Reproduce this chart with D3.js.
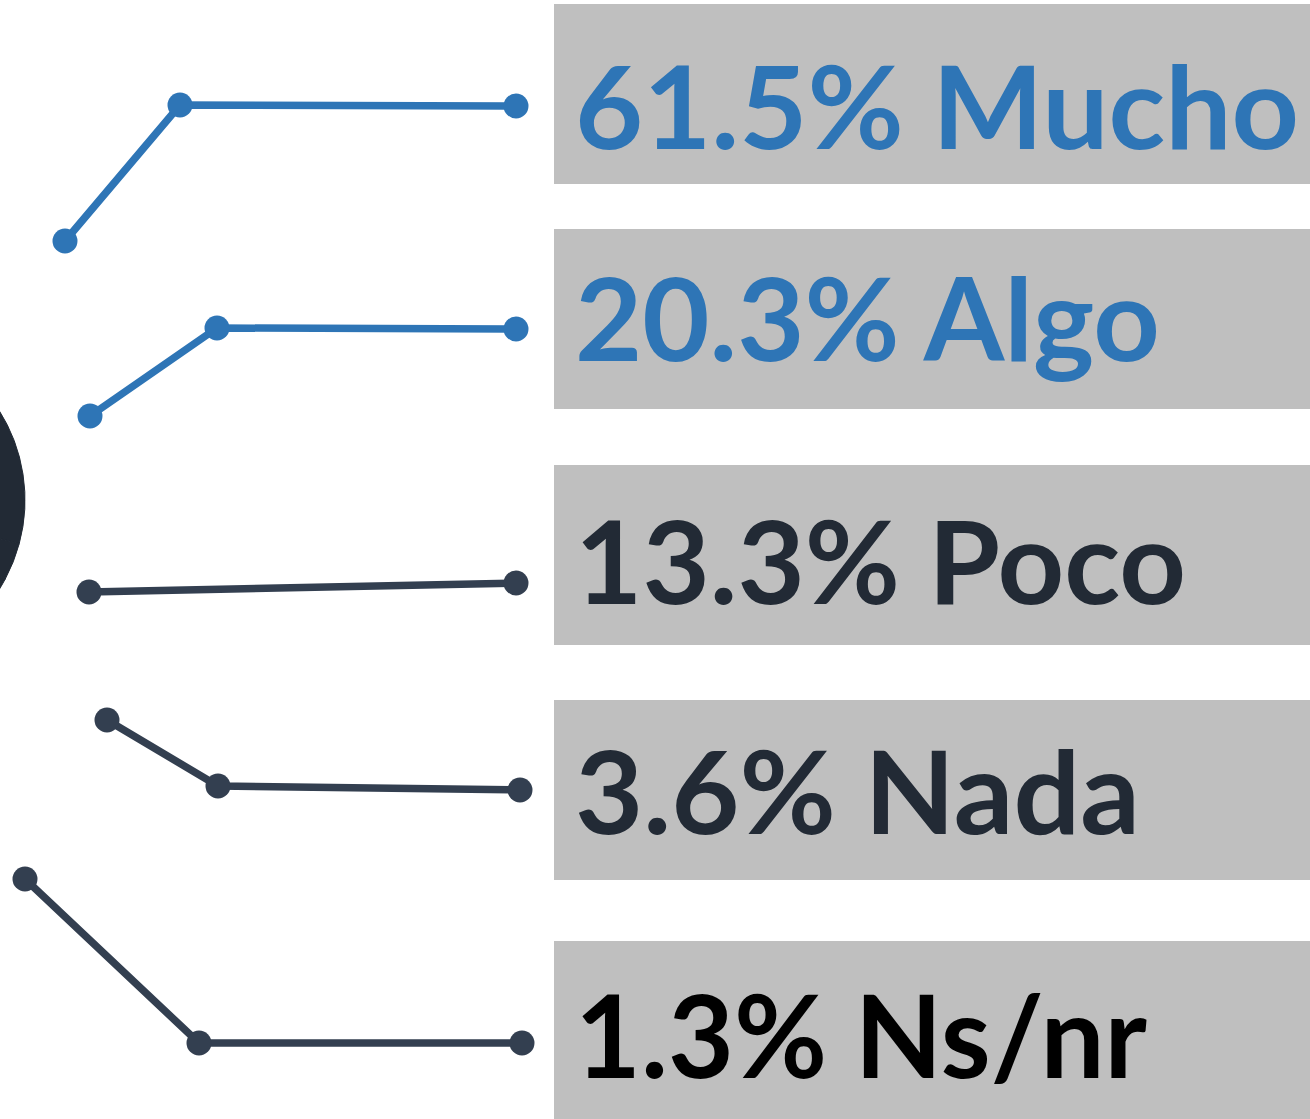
<!DOCTYPE html>
<html lang="es">

<head>
    <meta charset="UTF-8">
    <title>Encuesta</title>
    <style>
        body { margin: 0; background: #fff; }
        svg { display: block; }
    </style>
</head>

<body>
    <script src="https://d3js.org/d3.v7.min.js"></script>
    <script>
        // datos
        var categories = ["Mucho", "Algo", "Poco", "Nada", "Ns/nr"];
        var values = [61.5, 20.3, 13.3, 3.6, 1.3];

        // estilos
        var sliceColors = ["#2e75b6", "#5b9bd5", "#222a35", "#222a35", "#222a35"];
        var textColors = ["#2e75b6", "#2e75b6", "#222a35", "#222a35", "#000000"];
        var lineColors = ["#2e75b6", "#2e75b6", "#333f50", "#333f50", "#333f50"];

        // posicion manual de las etiquetas (como en el grafico original)
        var boxTop = [4, 229, 465, 700, 941];
        var textDy = [145, 132, 139, 134, 137];
        var textWidth = [724, 585, 611, 565, 572];
        var leaders = [
            [[65, 241], [180, 105], [516, 106]],
            [[90, 416], [217, 328], [516, 329]],
            [[89, 592], [516, 583]],
            [[107, 720], [218, 786], [520, 790]],
            [[25, 879], [199, 1043], [522, 1043]]
        ];

        var width = 1310;
        var height = 1119;

        var svg = d3.select('body').append('svg').attr('width', width).attr('height', height);

        // 1. tarta (casi toda fuera del cuadro)
        var total = d3.sum(values);
        var darkShare = d3.sum(values.slice(2)) / total;
        var start = Math.PI / 2 + Math.PI * darkShare;   // bloque oscuro centrado a la derecha

        var pie = d3.pie().sort(null).startAngle(start).endAngle(start + 2 * Math.PI);
        var arc = d3.arc().innerRadius(0).outerRadius(168);

        svg.append('g')
            .attr('transform', 'translate(-143, 500)')
            .selectAll('path').data(pie(values)).enter().append('path')
            .attr('d', arc)
            .attr('fill', function (d, i) { return sliceColors[i]; })
            .attr('stroke', function (d, i) { return sliceColors[i]; })
            .attr('stroke-width', 1);

        // 2. cajas con etiquetas
        var rows = svg.selectAll('g.label').data(categories).enter().append('g')
            .attr('class', 'label')
            .attr('transform', function (d, i) { return 'translate(554,' + boxTop[i] + ')'; });

        rows.append('rect')
            .attr('width', width - 554 + 10)
            .attr('height', 180)
            .attr('fill', '#bfbfbf');

        var fmt = d3.format('.1f');
        rows.append('text')
            .attr('x', 21)
            .attr('y', function (d, i) { return textDy[i]; })
            .attr('textLength', function (d, i) { return textWidth[i]; })
            .attr('lengthAdjust', 'spacingAndGlyphs')
            .attr('font-family', 'Lato, "Open Sans", sans-serif')
            .attr('font-weight', 700)
            .attr('font-size', 114)
            .attr('fill', function (d, i) { return textColors[i]; })
            .text(function (d, i) { return fmt(values[i]) + '% ' + d; });

        // 3. lineas guia con puntos
        var line = d3.line();
        leaders.forEach(function (pts, i) {
            svg.append('path')
                .attr('d', line(pts))
                .attr('fill', 'none')
                .attr('stroke', lineColors[i])
                .attr('stroke-width', 7.5);
            svg.selectAll(null).data(pts).enter().append('circle')
                .attr('cx', function (p) { return p[0]; })
                .attr('cy', function (p) { return p[1]; })
                .attr('r', 12.5)
                .attr('fill', lineColors[i]);
        });
    </script>
</body>

</html>
